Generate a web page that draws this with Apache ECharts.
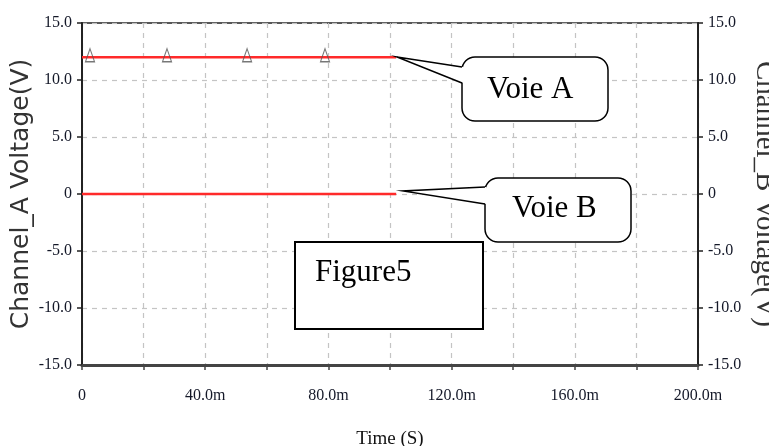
<!DOCTYPE html>
<html><head><meta charset="utf-8">
<script src="https://cdn.jsdelivr.net/npm/echarts@6/dist/echarts.min.js"></script>
<style>html,body{margin:0;padding:0;background:#fff;overflow:hidden}#c{width:769px;height:446px}</style>
</head><body><div id="c"></div>
<script>
// time in ms
const channelA = [[0, 12], [102, 12]];
const channelB = [[0, 0], [102, 0]];
const markersA = [[2.6, 12], [27.6, 12], [53.6, 12], [78.9, 12]];
const xTickLabels = {0: '0', 40: '40.0m', 80: '80.0m', 120: '120.0m', 160: '160.0m', 200: '200.0m'};
const yTickLabels = {15: '15.0', 10: '10.0', 5: '5.0', 0: '0', '-5': '-5.0', '-10': '-10.0', '-15': '-15.0'};

const chart = echarts.init(document.getElementById('c'), null, {renderer: 'canvas'});
const labelFont = {fontFamily: 'Liberation Serif', fontSize: 16, color: '#141828'};
const gridLine = {show: true, lineStyle: {color: '#c4c4c4', type: [5, 5], width: 1.2}};
const yAxisCommon = {
  type: 'value', min: -15, max: 15, interval: 5,
  axisLine: {show: true, lineStyle: {color: '#222', width: 2}},
  axisTick: {show: true, inside: false, length: 5, lineStyle: {color: '#222', width: 1.5}},
  axisLabel: Object.assign({margin: 10, formatter: v => yTickLabels[v] || ''}, labelFont),
  nameLocation: 'middle',
  nameMoveOverlap: false
};
function bubble(x, y, w, h, tip, t1, t2) {
  return [
    {type: 'rect', shape: {x: x, y: y, width: w, height: h, r: 13}, style: {fill: '#fff', stroke: '#000', lineWidth: 1.5}, z: 10},
    {type: 'polygon', shape: {points: [[x + 1.5, t1], tip, [x + 1.5, t2]]}, style: {fill: '#fff'}, z: 11},
    {type: 'polyline', shape: {points: [[x, t1], tip, [x, t2]]}, style: {fill: null, stroke: '#000', lineWidth: 1.5}, z: 12}
  ];
}
function label(text, x, y) {
  return {type: 'text', x: x, y: y, z: 13,
    style: {text: text, font: '31px "Liberation Serif"', fill: '#000', align: 'left', verticalAlign: 'middle'}};
}
chart.setOption({
  animation: false,
  grid: {left: 82, right: 71, top: 23, bottom: 81, outerBoundsMode: 'none', containLabel: false,
         show: true, borderColor: '#222', borderWidth: 1.5},
  xAxis: {
    type: 'value', min: 0, max: 200, interval: 20,
    axisLine: {show: true, onZero: false, lineStyle: {color: '#444', width: 3}},
    axisTick: {show: true, length: 5, lineStyle: {color: '#444', width: 1.5}},
    axisLabel: Object.assign({margin: 23, formatter: v => xTickLabels[v] || ''}, labelFont),
    splitLine: gridLine,
    name: 'Time (S)', nameLocation: 'middle', nameGap: 65, nameMoveOverlap: false,
    nameTextStyle: {fontFamily: 'Liberation Serif', fontSize: 19, color: '#111'}
  },
  yAxis: [
    Object.assign({}, yAxisCommon, {position: 'left', name: 'Channel_A Voltage(V)', nameRotate: 90, nameGap: 48, splitLine: gridLine,
      nameTextStyle: {fontFamily: 'DejaVu Sans', fontSize: 25, color: '#333'}}),
    Object.assign({}, yAxisCommon, {position: 'right', name: 'Channel_B Voltage(V)', nameRotate: -90, nameGap: 52, splitLine: {show: false},
      nameTextStyle: {fontFamily: 'Liberation Serif', fontSize: 29, color: '#333'}})
  ],
  series: [
    {type: 'line', data: channelA, showSymbol: false, lineStyle: {color: '#ff2a2a', width: 2.5}, z: 3},
    {type: 'line', data: channelB, yAxisIndex: 1, showSymbol: false, lineStyle: {color: '#ff2a2a', width: 2.5}, z: 3},
    {type: 'scatter', data: markersA, symbol: 'triangle', symbolSize: [9, 13], symbolOffset: [0, -2],
     itemStyle: {color: 'rgba(255,255,255,0)', borderColor: '#555', borderWidth: 1.2}, z: 4}
  ],
  graphic: [].concat(
    bubble(462, 57, 146, 64, [397, 57], 67, 83),
    [label('Voie A', 487, 89.5)],
    bubble(485, 178, 146, 64, [403, 191], 187, 204),
    [label('Voie B', 512, 208.5)],
    [{type: 'rect', shape: {x: 295, y: 242, width: 188, height: 87}, style: {fill: '#fff', stroke: '#000', lineWidth: 2}, z: 10},
     label('Figure5', 315, 272.5)]
  )
});
</script></body></html>
